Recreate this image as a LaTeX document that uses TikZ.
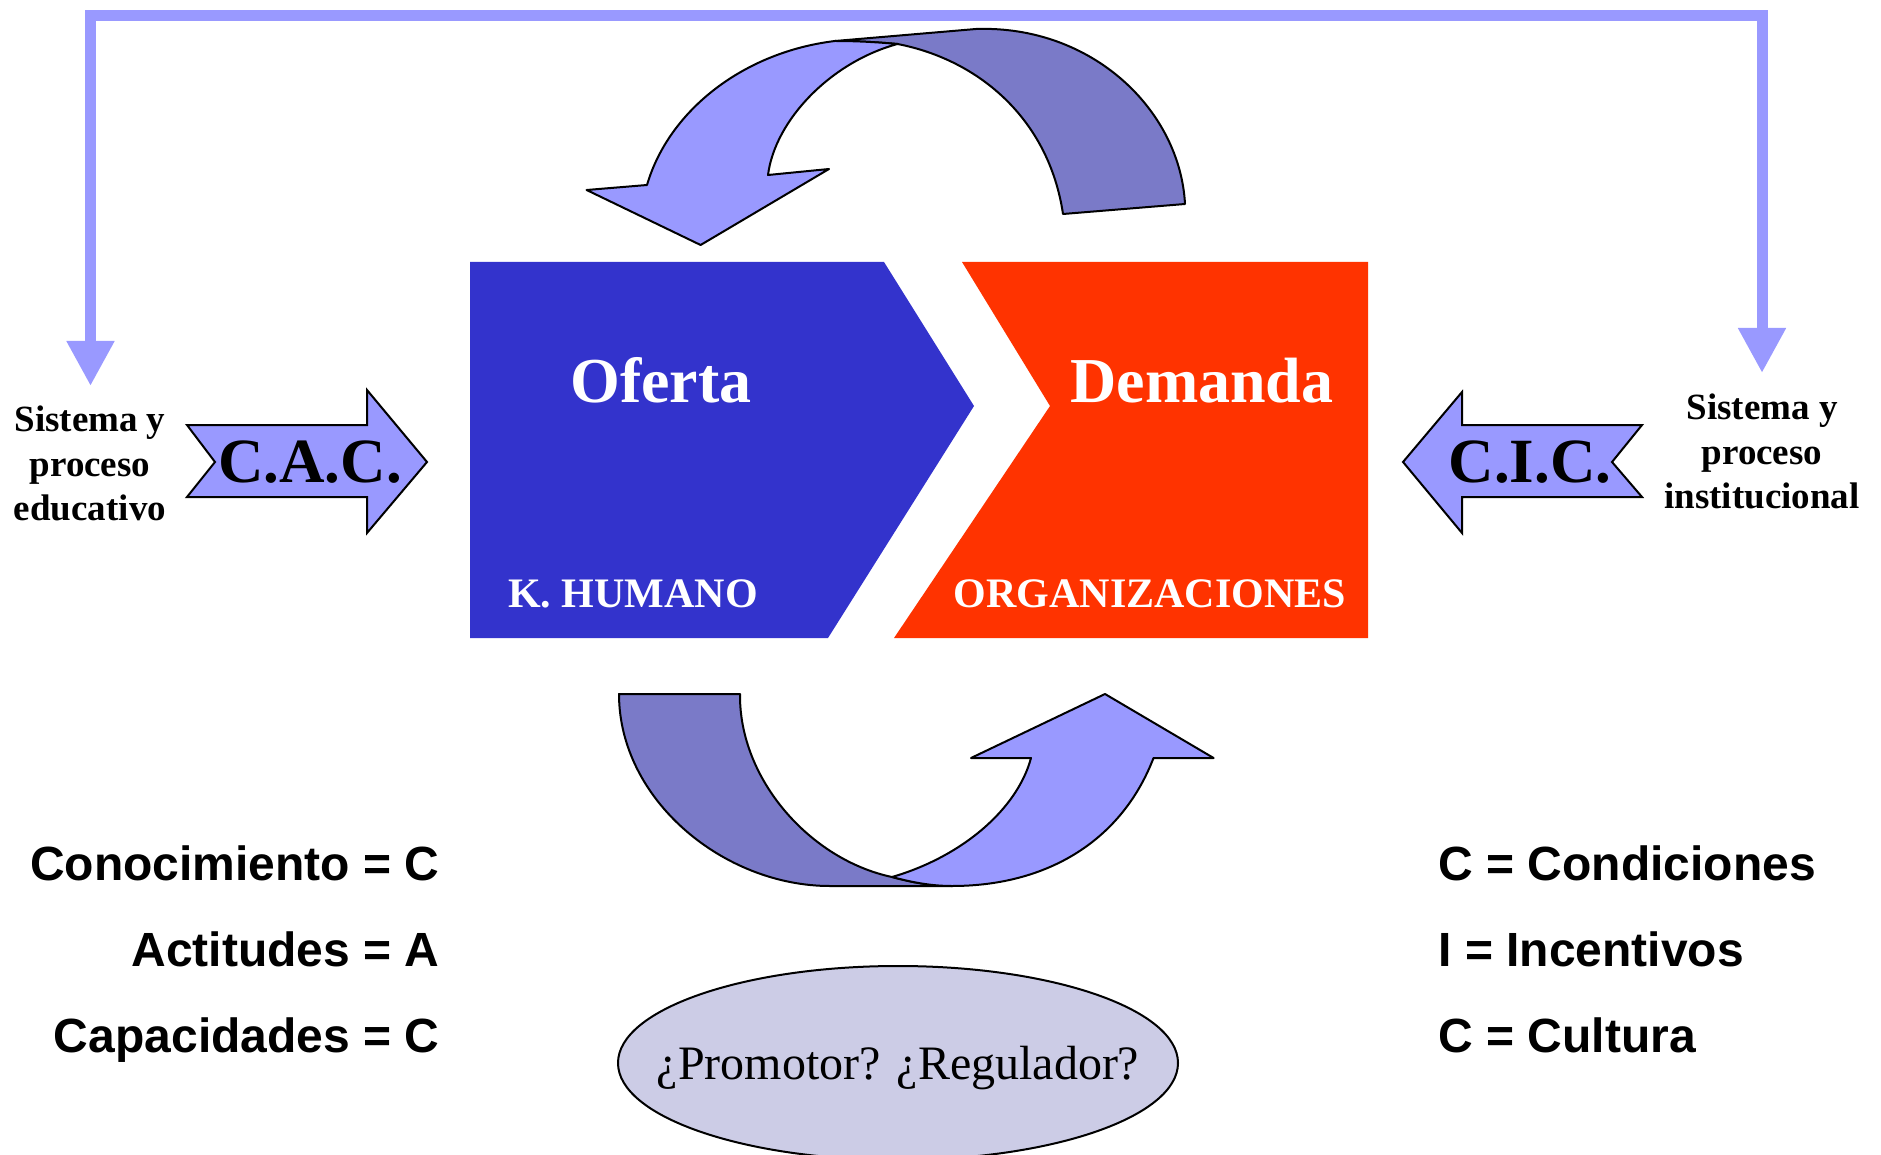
\documentclass[tikz,border=0pt]{standalone}
\usepackage{fontspec}
\setmainfont{Liberation Serif}
\newfontfamily\arialf{Liberation Sans}
\usetikzlibrary{arrows.meta}
\definecolor{lightarr}{RGB}{153,153,255}
\definecolor{darkarr}{RGB}{122,122,200}
\definecolor{ofertac}{RGB}{51,51,204}
\definecolor{demandac}{RGB}{255,51,0}
\definecolor{ellfill}{RGB}{204,204,230}
\begin{document}
\begin{tikzpicture}[x=1pt,y=-1pt,
  fbline/.style={draw=lightarr,line width=11pt,line join=miter,
    {Triangle[width=45pt,length=45pt]}-{Triangle[width=45pt,length=45pt]}},
  band/.style={draw=black,line width=2pt,line join=round},
  lightband/.style={band,fill=lightarr},
  darkband/.style={band,fill=darkarr},
  bigtitle/.style={font=\bfseries\fontsize{64}{64}\selectfont,text=white,anchor=base},
  subtitle/.style={font=\bfseries\fontsize{42}{42}\selectfont,text=white,anchor=base},
  sidetext/.style={font=\bfseries\fontsize{37}{44.5}\selectfont,align=center,anchor=center},
  codetext/.style={font=\bfseries\fontsize{63}{63}\selectfont,anchor=base},
  legendtext/.style={font=\arialf\bfseries\fontsize{48}{48}\selectfont},
  ]
\useasboundingbox (0,0) rectangle (1881,1155);

% feedback line
\coordinate (fbL) at (90.5,386);
\coordinate (fbLT) at (90.5,16);
\coordinate (fbRT) at (1762,16);
\coordinate (fbR) at (1762,373);
\draw[fbline] (fbL) -- (fbLT) -- (fbRT) -- (fbR);

% top curved arrow: dark back band
\path[darkband] (835,41) -- (976,29)
  .. controls (1092,25) and (1180,110) .. (1185,204)
  -- (1063,214)
  .. controls (1049,120) and (980,60) .. (897.5,44)
  .. controls (875,42) and (856,41) .. (835,41) -- cycle;
% top curved arrow: light front with head
\path[lightband] (647,185)
  .. controls (669,110) and (744,52) .. (835,41)
  .. controls (856,41) and (875,42) .. (897.5,44)
  .. controls (831,62) and (775,120) .. (768,175)
  -- (829,169) -- (700.6,245) -- (586.6,190) -- cycle;

% bottom curved arrow: dark band
\path[darkband] (619,694) -- (740,694)
  .. controls (739,780) and (811,860) .. (892,877)
  .. controls (911,882) and (930,886) .. (952,886)
  -- (830,886)
  .. controls (724,886) and (619,800) .. (619,694) -- cycle;
% bottom curved arrow: light with head
\path[lightband] (892,877)
  .. controls (961,857) and (1017,810) .. (1031,758)
  -- (971,758) -- (1105,694) -- (1213.6,758) -- (1153.5,758)
  .. controls (1122,840) and (1048,886) .. (952,886)
  .. controls (930,886) and (911,882) .. (892,877) -- cycle;

% Oferta / Demanda chevrons
\fill[ofertac] (470,262) -- (884,262) -- (974,406) -- (828,638) -- (470,638) -- cycle;
\fill[demandac] (962,262) -- (1368,262) -- (1368,638) -- (894,638) -- (1050,406) -- cycle;
\node[bigtitle] (oferta) at (661,402) {Oferta};
\node[bigtitle] (demanda) at (1202,402) {Demanda};
\node[subtitle] (khum) at (633,607) {K. HUMANO};
\node[subtitle] (orgs) at (1150,607) {ORGANIZACIONES};

% side arrows
\path[lightband,line join=miter] (187,425) -- (367,425) -- (367,390) -- (427,462)
  -- (367,533) -- (367,497) -- (187,497) -- (215,462) -- cycle;
\node[codetext] (cac) at (310,482) {C.A.C.};
\path[lightband,line join=miter] (1403,462) -- (1462,392) -- (1462,425) -- (1642,425)
  -- (1612,462) -- (1642,497) -- (1462,497) -- (1462,533) -- cycle;
\node[codetext] (cic) at (1530,482) {C.I.C.};

\node[sidetext] (educ) at (90,463.5) {Sistema y\\proceso\\educativo};
\node[sidetext] (inst) at (1762,451.5) {Sistema y\\proceso\\institucional};

% legends
\node[legendtext,anchor=base east] (lc1) at (443,880) {Conocimiento = C};
\node[legendtext,anchor=base east] (la) at (443,966) {Actitudes = A};
\node[legendtext,anchor=base east] (lc2) at (443,1052) {Capacidades = C};
\node[legendtext,anchor=base west] (rc1) at (1435,880) {C = Condiciones};
\node[legendtext,anchor=base west] (ri) at (1435,966) {I = Incentivos};
\node[legendtext,anchor=base west] (rc2) at (1435,1052) {C = Cultura};

% ellipse
\draw[fill=ellfill,draw=black,line width=2pt] (898,1063) ellipse [x radius=280, y radius=97];
\node[font=\fontsize{48}{48}\selectfont] (prom) at (898,1068) {¿Promotor? ¿Regulador?};
\end{tikzpicture}
\end{document}
